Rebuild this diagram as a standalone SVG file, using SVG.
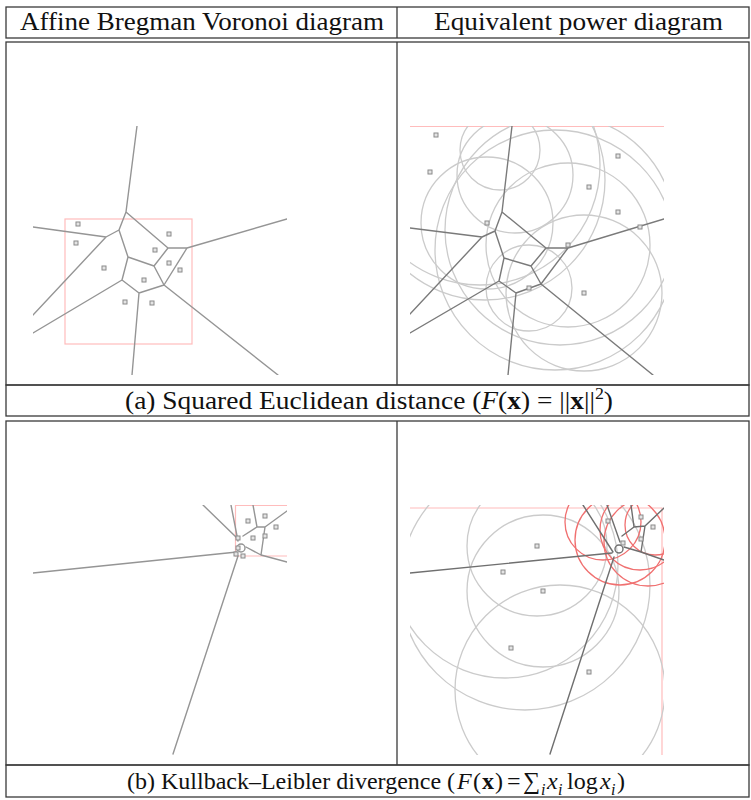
<svg xmlns="http://www.w3.org/2000/svg" xmlns:xlink="http://www.w3.org/1999/xlink" width="751" height="800" viewBox="0 0 751 800">
<style>
.tbl{fill:none;stroke:#3a3a3a;stroke-width:1.3}
.txt{font-family:"Liberation Serif","Times New Roman",serif;font-size:26px;fill:#111}
.cap{font-family:"Liberation Serif","Times New Roman",serif;font-size:24px;fill:#111}
.sub{font-family:"Liberation Serif","Times New Roman",serif;font-size:16px;font-style:italic;fill:#111}
.vor{fill:none;stroke:#959595;stroke-width:1.4;stroke-linecap:round;stroke-linejoin:round}
.box{fill:none;stroke:#ffbcbc;stroke-width:1.2}
.cir{fill:none;stroke:#cbcbcb;stroke-width:1.3}
.red{fill:none;stroke:#f07070;stroke-width:1.3}
.pt{fill:#e4e4e4;stroke:#8a8a8a;stroke-width:1}
</style>
<defs>
<rect id="pt" class="pt" x="-2" y="-2" width="4" height="4"/>
<clipPath id="cTL"><rect x="33" y="126" width="254" height="249"/></clipPath>
<clipPath id="cTR"><rect x="410" y="126" width="254" height="249"/></clipPath>
<clipPath id="cBL"><rect x="33" y="505" width="254" height="250"/></clipPath>
<clipPath id="cBR"><rect x="410" y="505" width="254" height="250"/></clipPath>
</defs>
<rect width="751" height="800" fill="#fff"/>

<g id="table">
<rect class="tbl" x="6" y="7" width="743" height="31"/>
<line class="tbl" x1="397" y1="7" x2="397" y2="38"/>
<rect class="tbl" x="6" y="42" width="743" height="343"/>
<line class="tbl" x1="397" y1="42" x2="397" y2="385"/>
<rect class="tbl" x="6" y="385" width="743" height="31"/>
<rect class="tbl" x="6" y="421" width="743" height="344"/>
<line class="tbl" x1="397" y1="421" x2="397" y2="765"/>
<rect class="tbl" x="6" y="765" width="743" height="32"/>
</g>

<g id="header-left"><text class="txt" x="20" y="30" textLength="364" lengthAdjust="spacingAndGlyphs">Affine Bregman Voronoi diagram</text></g>
<g id="header-right"><text class="txt" x="434" y="30" textLength="289" lengthAdjust="spacingAndGlyphs">Equivalent power diagram</text></g>

<g id="panel-a-left" clip-path="url(#cTL)">
<rect class="box" x="65" y="219" width="127" height="125"/>
<path class="vor" d="M137,126 L126,212 L119,230 L128,257 L154,266 L164,285 L139,293 L122,280 L128,257 M126,212 L168,248 L154,266 M168,248 L187,248 L164,285 M187,248 L287,219 M33,227 L106,237 L119,230 M106,237 L33,315 M122,280 L33,333 M139,293 L132,375 M164,285 L278,375"/>
<use href="#pt" x="78" y="224"/><use href="#pt" x="76" y="243"/><use href="#pt" x="104" y="268"/>
<use href="#pt" x="169" y="234"/><use href="#pt" x="155" y="250"/><use href="#pt" x="169" y="263"/>
<use href="#pt" x="180" y="270"/><use href="#pt" x="144" y="280"/><use href="#pt" x="125" y="302"/>
<use href="#pt" x="152" y="303"/>
</g>

<g id="panel-a-right" clip-path="url(#cTR)">
<line class="box" x1="410" y1="126.5" x2="664" y2="126.5"/>
<circle class="cir" cx="487" cy="223" r="66"/>
<circle class="cir" cx="529" cy="288" r="43"/>
<circle class="cir" cx="584" cy="293" r="78"/>
<circle class="cir" cx="568" cy="245" r="82"/>
<circle class="cir" cx="500" cy="150" r="40"/>
<circle class="cir" cx="515" cy="175" r="58"/>
<circle class="cir" cx="480" cy="165" r="120"/>
<circle class="cir" cx="485" cy="180" r="120"/>
<circle class="cir" cx="560" cy="230" r="115"/>
<circle class="cir" cx="555" cy="250" r="120"/>
<path class="vor" style="stroke:#7a7a7a" d="M512,126 L502,212 L495,231 L504,258 L531,266 L541,284 L516,293 L499,281 L504,258 M502,212 L546,248 L531,266 M546,248 L568,248 L541,284 M568,248 L664,219 M410,228 L482,237 L495,231 M482,237 L410,314 M499,281 L410,333 M516,293 L508,375 M541,284 L653,375"/>
<use href="#pt" x="436" y="135"/><use href="#pt" x="430" y="172"/><use href="#pt" x="618" y="156"/>
<use href="#pt" x="589" y="187"/><use href="#pt" x="618" y="212"/><use href="#pt" x="640" y="227"/>
<use href="#pt" x="568" y="245"/><use href="#pt" x="487" y="223"/><use href="#pt" x="529" y="288"/>
<use href="#pt" x="584" y="293"/>
</g>

<g id="caption-a"><text class="txt" x="125" y="409" textLength="488" lengthAdjust="spacingAndGlyphs">(a) Squared Euclidean distance (<tspan font-style="italic">F</tspan>(<tspan font-weight="bold">x</tspan>) = ||<tspan font-weight="bold">x</tspan>||<tspan font-size="17" dy="-10">2</tspan><tspan dy="10">)</tspan></text></g>

<g id="panel-b-left" clip-path="url(#cBL)">
<path class="box" d="M287,505.5 L235.5,505.5 L235.5,556 L287,556"/>
<path class="vor" d="M33,573 L237,552 M238,556 L173,754 M203,505 L237,538 M231,505 L238,541 M253,505 L257,527 L265,527 L287,511 M257,527 L243,536 M265,527 L261,555 L287,562 M246,547 L261,555"/>
<circle class="vor" cx="241" cy="548" r="4"/>
<use href="#pt" x="248" y="521"/><use href="#pt" x="265" y="516"/><use href="#pt" x="276" y="527"/>
<use href="#pt" x="253" y="538"/><use href="#pt" x="265" y="536"/><use href="#pt" x="238" y="538"/>
<use href="#pt" x="238" y="548"/><use href="#pt" x="243" y="556"/><use href="#pt" x="236" y="554"/>
</g>

<g id="panel-b-right" clip-path="url(#cBR)">
<path class="box" d="M410,508 L662,508 L662,755"/>
<circle class="cir" cx="537" cy="546" r="70"/>
<circle class="cir" cx="505" cy="565" r="113"/>
<circle class="cir" cx="543" cy="591" r="76"/>
<circle class="cir" cx="560" cy="690" r="105"/>
<circle class="cir" cx="525" cy="585" r="125"/>
<circle class="red" cx="603" cy="522" r="38"/>
<circle class="red" cx="620" cy="540" r="45"/>
<circle class="red" cx="640" cy="530" r="40"/>
<circle class="red" cx="648" cy="542" r="44"/>
<circle class="red" cx="655" cy="525" r="30"/>
<path class="vor" style="stroke:#6f6f6f" d="M410,573 L612,553 M614,557 L550,754 M583,505 L613,552 M607,505 L620,542 M631,505 L634,527 L645,526 L664,508 M634,527 L622,536 M645,526 L641,552 L664,560 M624,547 L641,552"/>
<circle class="vor" style="stroke:#6f6f6f" cx="619" cy="549" r="4"/>
<use href="#pt" x="608" y="521"/><use href="#pt" x="641" y="517"/><use href="#pt" x="653" y="527"/>
<use href="#pt" x="623" y="543"/><use href="#pt" x="641" y="539"/><use href="#pt" x="537" y="546"/>
<use href="#pt" x="503" y="572"/><use href="#pt" x="543" y="591"/><use href="#pt" x="511" y="648"/>
<use href="#pt" x="589" y="672"/>
</g>

<g id="caption-b">
<text class="cap" x="127" y="789">(b) Kullback–Leibler divergence (</text>
<text class="cap" x="457" y="789" font-style="italic">F</text>
<text class="cap" x="473" y="789">(</text>
<text class="cap" x="482" y="789" font-weight="bold">x</text>
<text class="cap" x="495" y="789">)</text>
<text class="cap" x="507" y="789">=</text>
<text class="cap" x="523" y="789">∑</text>
<text class="sub" x="541" y="795">i</text>
<text class="cap" x="547" y="789" font-style="italic">x</text>
<text class="sub" x="558" y="795">i</text>
<text class="cap" x="567" y="789">log</text>
<text class="cap" x="600" y="789" font-style="italic">x</text>
<text class="sub" x="611" y="795">i</text>
<text class="cap" x="617" y="789">)</text>
</g>
</svg>
